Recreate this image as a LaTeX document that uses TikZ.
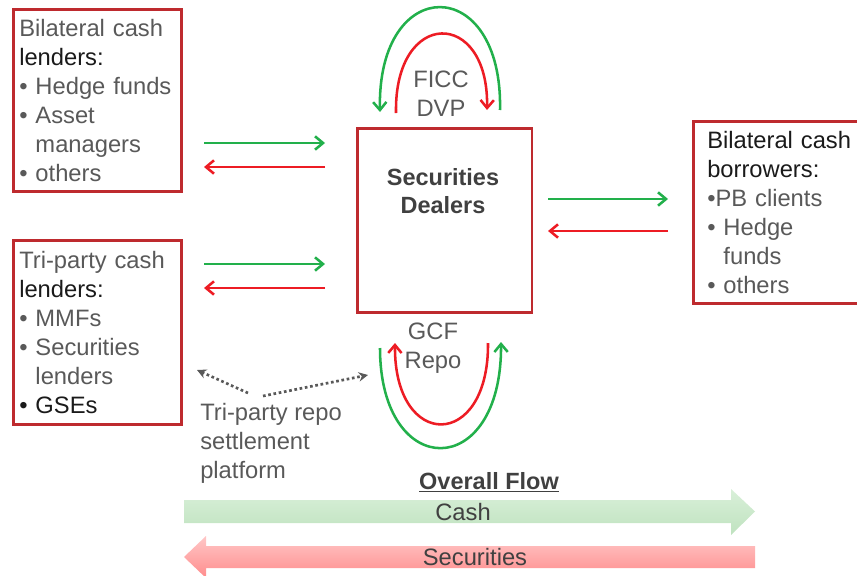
\documentclass[tikz,border=0pt]{standalone}
\usepackage{fontspec}
\setmainfont{Liberation Sans}
\usetikzlibrary{arrows.meta}
\definecolor{boxred}{HTML}{BE2A2E}
\definecolor{flowgreen}{HTML}{22B04B}
\definecolor{flowred}{HTML}{ED1C24}
\definecolor{txtgray}{HTML}{595959}
\definecolor{txtdark}{HTML}{404040}
\definecolor{txtblack}{HTML}{1A1A1A}
\newcommand{\bul}{\textbullet\ }
\newcommand{\hang}{\phantom{\textbullet\ }}
\tikzset{
  txt/.style={font=\fontsize{17.8}{21.75}\selectfont, text=txtgray, inner sep=0pt},
  partybox/.style={draw=boxred, line width=1.9pt, anchor=north west, align=left,
    txt, inner xsep=4.5pt},
  flow/.style={line width=1.9pt, -{Straight Barb[length=6pt,width=10pt,line width=1.9pt]}},
  cashflow/.style={flow, draw=flowgreen},
  secflow/.style={flow, draw=flowred},
  platformlink/.style={draw=txtgray, line width=2pt, dotted,
    -{Stealth[length=7pt,width=7pt]}},
}
\begin{document}
\begin{tikzpicture}[x=0.75pt, y=-0.75pt]
\useasboundingbox (0,0) rectangle (857,575);

% counterparties
\node[partybox, text width=117pt, minimum height=136.5pt] (bilend) at (12,8)
  {Bilateral cash\\ \textcolor{txtblack}{lenders:}\\ \bul Hedge funds\\ \bul Asset\\ \hang managers\\ \bul others};
\node[partybox, text width=117pt, minimum height=138pt] (trilend) at (12,239)
  {Tri-party cash\\ \textcolor{txtblack}{lenders:}\\ \bul MMFs\\ \bul Securities\\ \hang lenders\\ \textcolor{txtblack}{\bul GSEs}};
\node[partybox, text width=118pt, minimum height=136.5pt, inner xsep=10.5pt] (bibor) at (692,120)
  {\textcolor{txtblack}{Bilateral cash}\\ \textcolor{txtblack}{borrowers:}\\ \textbullet PB clients\\ \bul Hedge\\ \hang funds\\ \bul others};

% dealers
\node[draw=boxred, line width=1.9pt, anchor=north west, minimum width=131pt,
  minimum height=138pt, inner sep=0pt] (dealer) at (356,127) {};
\node[txt, text=txtdark, font=\fontsize{17.6}{21}\selectfont\bfseries, align=center] (dealtxt) at (443,191)
  {Securities\\ Dealers};

% horizontal flows
\coordinate (a1) at (204,143); \coordinate (a2) at (325,143);
\coordinate (b1) at (325,167); \coordinate (b2) at (204,167);
\coordinate (c1) at (204,264); \coordinate (c2) at (325,264);
\coordinate (d1) at (325,288); \coordinate (d2) at (204,288);
\coordinate (e1) at (548,199); \coordinate (e2) at (668,199);
\coordinate (f1) at (668,231); \coordinate (f2) at (548,231);
\draw[cashflow] (a1) -- (a2);
\draw[secflow] (b1) -- (b2);
\draw[cashflow] (c1) -- (c2);
\draw[secflow] (d1) -- (d2);
\draw[cashflow] (e1) -- (e2);
\draw[secflow] (f1) -- (f2);

% FICC DVP loop
\node[txt, align=center] (ficc) at (441,94) {FICC\\ DVP};
\coordinate (g1) at (500,110); \coordinate (g2) at (380,112);
\coordinate (h1) at (396,113); \coordinate (h2) at (487,110);
\draw[cashflow] (g1) .. controls (503,-27) and (377,-27) .. (g2);
\draw[secflow] (h1) .. controls (394,8) and (489,8) .. (h2);

% GCF repo loop
\node[txt, align=center] (gcf) at (433,348) {GCF\\ Repo};
\coordinate (i1) at (380,348); \coordinate (i2) at (501,342);
\coordinate (j1) at (488,343); \coordinate (j2) at (395,343);
\draw[cashflow] (i1) .. controls (380,482) and (502,482) .. (i2);
\draw[secflow] (j1) .. controls (489,451) and (394,451) .. (j2);

% tri-party platform
\node[txt, align=left, anchor=west] (platform) at (200,443)
  {Tri-party repo\\ settlement\\ platform};
\coordinate (p0) at (248,393); \coordinate (p1) at (197,370);
\coordinate (q0) at (263,396); \coordinate (q1) at (368,375);
\draw[platformlink] (p0) -- (p1);
\draw[platformlink] (q0) -- (q1);

% overall flow
\node[txt, text=txtdark, font=\fontsize{17.6}{21}\selectfont\bfseries] (overall) at (489,482)
  {\underline{Overall Flow}};
\shade[top color=green!60!black!15!white, bottom color=green!55!black!25!white]
  (184,500) -- (731,500) -- (731,489) -- (755,511.5) -- (731,535) -- (731,523)
  -- (184,523) -- cycle;
\node[txt, text=txtdark] (cash) at (463,512) {Cash};
\shade[top color=red!22!white, bottom color=red!45!white]
  (755,546) -- (206,546) -- (206,536) -- (184,557) -- (206,578) -- (206,568)
  -- (755,568) -- cycle;
\node[txt, text=txtdark] (secs) at (475,557) {Securities};
\end{tikzpicture}
\end{document}
